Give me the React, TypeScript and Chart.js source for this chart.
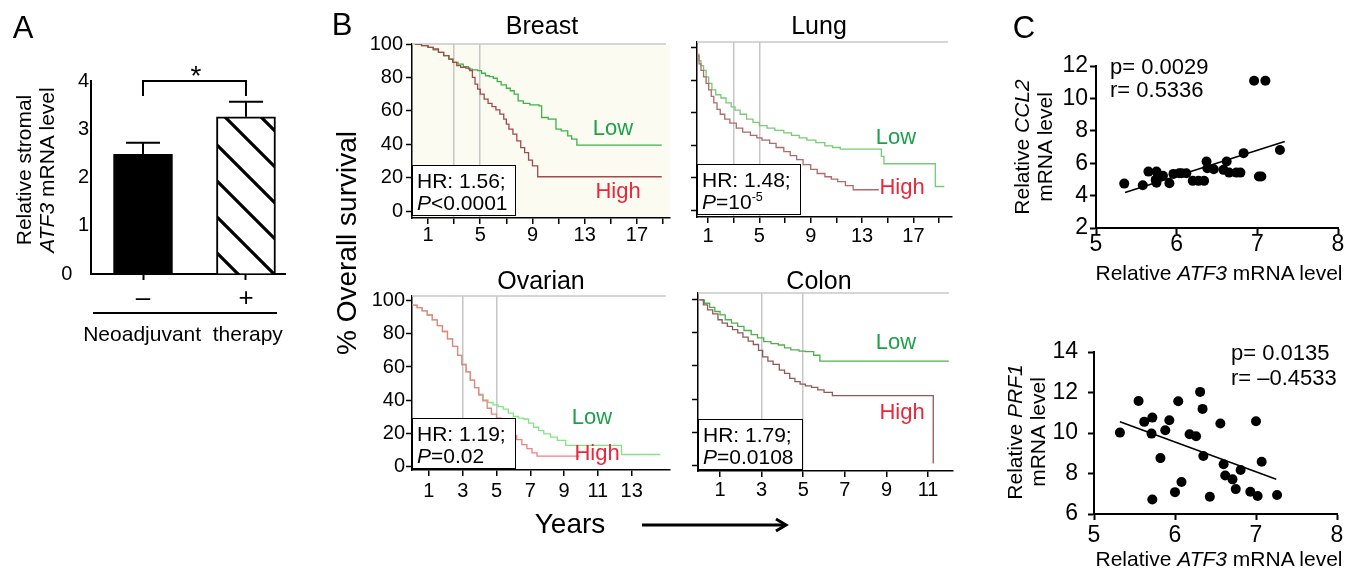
import React, { useEffect, useRef } from 'react';
import { Chart, registerables } from 'chart.js';

Chart.register(...registerables);

const FONT = '"Liberation Sans", Arial, Helvetica, sans-serif';
const PW = 1347;
const PH = 569;
Chart.defaults.font.family = FONT;
Chart.defaults.color = '#000';

// ---------------- Panel A data ----------------
const therapyGroups = ['–', '+'];
const atf3Means = [2.48, 3.26];
const atf3Errors = [0.24, 0.31];
const atf3Ticks = [0, 1, 2, 3, 4];
const sigBracket = [4.0, 3.69];

// ---------------- Panel B data (years, % survival) ----------------
const breastLowYears = [0, 0.5, 1.0, 1.4, 1.8, 2.2, 2.6, 2.9, 3.3, 3.7, 4.1, 4.4, 4.8, 5.1, 5.4, 5.7, 6.0, 6.3, 6.6, 7.0, 7.3, 7.6, 7.9, 8.3, 8.8, 9.5, 9.7, 10.2, 10.8, 11.2, 11.7, 12.0, 12.4, 18.9];
const breastLowSurv = [100, 99, 98, 96.5, 95, 93, 91, 89, 88, 86.5, 85, 84.5, 84, 82.5, 81, 80.5, 79.5, 77.5, 75.5, 73.5, 72, 70, 66, 64.5, 63.5, 63, 56, 55, 49, 48, 45, 43, 39.5, 39.5];
const breastHighYears = [0, 0.5, 1.0, 1.4, 1.8, 2.2, 2.6, 2.9, 3.2, 3.5, 3.9, 4.2, 4.4, 4.6, 4.8, 5.0, 5.3, 5.6, 5.9, 6.2, 6.5, 6.8, 7.0, 7.2, 7.5, 7.8, 8.1, 8.4, 8.7, 9.0, 9.4, 18.9];
const breastHighSurv = [100, 99, 98, 97, 95, 93, 91, 89, 87, 86, 85.5, 84, 80, 76, 73, 70, 67, 64.5, 62.5, 60.5, 58, 55, 52, 49, 46, 42, 38, 35, 30.5, 27, 20.5, 20.5];

const lungLowYears = [0, 0.15, 0.3, 0.45, 0.65, 0.85, 1.05, 1.3, 1.6, 2.0, 2.4, 2.8, 3.1, 3.5, 4.0, 4.5, 5.0, 5.6, 6.2, 6.9, 7.5, 8.1, 8.7, 9.4, 10.1, 10.7, 11.3, 14.4, 14.5, 14.7, 18.6, 18.7, 19.4];
const lungLowSurv = [100, 96, 92, 89, 86, 82, 78, 74, 71, 69, 66, 63.5, 61.5, 59, 56, 54, 52, 50.5, 49, 47.5, 46, 44.5, 43, 41.5, 39.5, 38.5, 37.5, 37.5, 33, 28.5, 28.5, 14.5, 14.5];
const lungHighYears = [0, 0.15, 0.3, 0.45, 0.65, 0.85, 1.05, 1.25, 1.45, 1.7, 1.95, 2.3, 2.7, 3.2, 3.7, 4.3, 4.8, 5.2, 5.8, 6.3, 6.9, 7.4, 7.9, 8.4, 9.0, 9.5, 10.1, 10.6, 11.1, 11.7, 12.3, 14.3];
const lungHighSurv = [100, 95, 90, 86, 82, 78, 74, 70, 66, 62, 59, 56, 53.5, 50.5, 48, 46, 44.5, 43, 41, 38.5, 36, 33.5, 31, 28, 25, 22.5, 20.5, 19, 17.5, 15, 12.5, 12.5];

const ovarianLowYears = [0, 0.3, 0.6, 0.9, 1.2, 1.5, 1.8, 2.1, 2.4, 2.7, 2.95, 3.2, 3.45, 3.7, 3.95, 4.2, 4.5, 4.8, 5.1, 5.4, 5.7, 6.0, 6.3, 6.6, 6.9, 7.2, 7.5, 7.8, 8.2, 8.6, 9.1, 12.3, 12.4, 14.7];
const ovarianLowSurv = [97.5, 96, 94, 91.5, 88.5, 85, 81.5, 77, 72.5, 67, 61.5, 57, 52, 47.5, 43.5, 40, 38.5, 37, 36, 34.5, 32, 30, 29, 28.5, 26, 23.5, 21.5, 19.5, 17.5, 15.5, 12.5, 12.5, 7, 7];
const ovarianHighYears = [0, 0.3, 0.6, 0.9, 1.2, 1.5, 1.8, 2.1, 2.4, 2.7, 2.95, 3.2, 3.45, 3.7, 3.95, 4.2, 4.45, 4.7, 5.0, 5.3, 5.6, 5.9, 6.2, 6.5, 6.8, 7.1, 7.4, 9.9];
const ovarianHighSurv = [97.5, 96, 94, 91.5, 88.5, 85, 81.5, 77, 72.5, 67, 61.5, 57, 52, 47.5, 43, 39.5, 35, 31.5, 29, 25.5, 21.5, 18.5, 16, 13, 10.5, 8, 6, 6];

const colonLowYears = [0, 0.25, 0.5, 0.75, 1.0, 1.25, 1.55, 1.85, 2.15, 2.5, 2.8, 3.1, 3.45, 3.8, 4.1, 4.4, 4.8, 5.1, 5.5, 5.8, 12.0];
const colonLowSurv = [100, 98, 95.5, 93, 91, 88, 86, 84, 81.5, 79, 77, 74.7, 73.5, 72.7, 71, 69.7, 69, 68.7, 66.5, 63, 63];
const colonHighYears = [0, 0.2, 0.4, 0.65, 0.9, 1.1, 1.35, 1.6, 1.85, 2.1, 2.35, 2.6, 2.85, 3.05, 3.3, 3.55, 3.85, 4.1, 4.35, 4.6, 4.85, 5.1, 5.4, 5.7, 6.0, 6.4, 11.2, 11.25];
const colonHighSurv = [100, 97, 94, 91.5, 88, 86, 84, 82, 80, 77.5, 75, 73, 69.5, 65.5, 63, 61, 57.5, 55.5, 52.5, 50.5, 49, 48, 47, 45.5, 44, 42, 42, 1];

const survivalTicks = [0, 20, 40, 60, 80, 100];
const landmarkYears = [3, 5];

// ---------------- Panel C data ----------------
const ccl2Atf3 = [5.35, 5.58, 5.65, 5.75, 5.74, 5.75, 5.83, 5.91, 5.96, 6.03, 6.06, 6.12, 6.20, 6.27, 6.34, 6.37, 6.38, 6.46, 6.58, 6.62, 6.65, 6.74, 6.79, 6.83, 6.96, 7.10, 7.02, 7.05, 7.28];
const ccl2Level = [4.74, 4.64, 5.48, 5.48, 4.97, 4.80, 5.22, 4.76, 5.34, 5.38, 5.38, 5.38, 4.91, 4.91, 4.91, 6.10, 5.69, 5.63, 5.59, 6.10, 5.42, 5.42, 5.42, 6.62, 11.09, 11.09, 5.18, 5.18, 6.82];
const ccl2FitX = [5.36, 7.34];
const ccl2FitY = [4.19, 7.34];
const prf1Atf3 = [5.32, 5.55, 5.62, 5.72, 5.71, 5.72, 5.82, 5.88, 5.93, 6.00, 6.04, 6.08, 6.18, 6.26, 6.31, 6.34, 6.35, 6.43, 6.56, 6.60, 6.62, 6.71, 6.75, 6.81, 6.93, 7.00, 7.02, 7.07, 7.26];
const prf1Level = [10.02, 11.58, 10.55, 10.76, 9.97, 6.72, 8.76, 10.14, 10.63, 7.08, 11.57, 7.58, 9.94, 9.84, 12.03, 11.19, 8.86, 6.85, 10.47, 8.46, 7.90, 7.71, 7.23, 8.17, 7.10, 10.58, 6.89, 8.58, 6.94];
const prf1FitX = [5.32, 7.25];
const prf1FitY = [10.55, 7.71];
const atf3AxisTicks = [5, 6, 7, 8];
const ccl2Ticks = [2, 4, 6, 8, 10, 12];
const prf1Ticks = [6, 8, 10, 12, 14];

// ---------------- helpers ----------------
const pts = (xs: number[], ys: number[]) => xs.map((x, i) => ({ x, y: ys[i] }));
const setTicks = (vals: number[]) => (sc: any) => {
  sc.ticks = vals.map((v) => ({ value: v }));
};
const fitY = (w: number) => (sc: any) => {
  sc.width = w;
  sc.paddingTop = 0;
  sc.paddingBottom = 0;
};
const fitX = (h: number) => (sc: any) => {
  sc.height = h;
  sc.paddingLeft = 0;
  sc.paddingRight = 0;
};
const YW = 70;
const XH = 45;
const layoutFor = (L: number, T: number, R: number, B: number) => ({
  autoPadding: false,
  padding: { left: L - YW, top: T, right: PW - R, bottom: PH - B - XH },
});
const baseOpts = {
  animation: false,
  responsive: false,
  events: [],
  plugins: { legend: { display: false }, tooltip: { enabled: false }, title: { display: false } },
};

function ChartLayer({ build }: { build: () => any }) {
  const ref = useRef<HTMLCanvasElement | null>(null);
  useEffect(() => {
    if (!ref.current) return;
    const chart = new Chart(ref.current, build());
    return () => {
      chart.destroy();
    };
  }, []);
  return (
    <canvas
      ref={ref}
      width={PW}
      height={PH}
      style={{ position: 'absolute', left: 0, top: 0, width: PW, height: PH }}
    />
  );
}

// ---------------- Panel A chart ----------------
function buildBar() {
  const pc = document.createElement('canvas');
  const S = 36;
  pc.width = S;
  pc.height = S;
  const g = pc.getContext('2d')!;
  g.fillStyle = '#fff';
  g.fillRect(0, 0, S, S);
  g.strokeStyle = '#000';
  g.lineWidth = 3.2;
  g.beginPath();
  g.moveTo(-4, -4);
  g.lineTo(S + 4, S + 4);
  g.moveTo(-4, S - 4);
  g.lineTo(4, S + 4);
  g.moveTo(S - 4, -4);
  g.lineTo(S + 4, 4);
  g.stroke();
  const hatch = g.createPattern(pc, 'repeat');

  const errPlugin = {
    id: 'errbars',
    afterDatasetsDraw(chart: any) {
      const { ctx, scales } = chart;
      const x = scales.x;
      const y = scales.y;
      ctx.save();
      ctx.strokeStyle = '#000';
      ctx.lineWidth = 2;
      atf3Means.forEach((m, i) => {
        const px = x.getPixelForValue(i);
        const top = y.getPixelForValue(m + atf3Errors[i]);
        const base = y.getPixelForValue(m);
        ctx.beginPath();
        ctx.moveTo(px, base);
        ctx.lineTo(px, top);
        ctx.moveTo(px - 17, top);
        ctx.lineTo(px + 17, top);
        ctx.stroke();
      });
      const x0 = x.getPixelForValue(0);
      const x1 = x.getPixelForValue(1);
      const yb = y.getPixelForValue(sigBracket[0]);
      const yl = y.getPixelForValue(sigBracket[1]);
      ctx.beginPath();
      ctx.moveTo(x0, yl);
      ctx.lineTo(x0, yb);
      ctx.lineTo(x1, yb);
      ctx.lineTo(x1, yl);
      ctx.stroke();
      ctx.restore();
    },
  };

  return {
    type: 'bar',
    data: {
      datasets: [
        {
          data: pts([0, 1], atf3Means),
          backgroundColor: ['#000', hatch],
          borderColor: '#000',
          borderWidth: 2,
          barThickness: 59,
        },
      ],
    },
    options: {
      ...baseOpts,
      layout: layoutFor(91, 81, 285, 274),
      scales: {
        x: {
          type: 'linear',
          min: -0.505,
          max: 1.379,
          offset: false,
          afterBuildTicks: setTicks([0, 1]),
          afterFit: fitX(XH),
          ticks: {
            autoSkip: false,
            maxRotation: 0,
            padding: 6,
            font: { size: 26, lineHeight: 1 },
            color: '#000',
            callback: (v: number) => therapyGroups[v] ?? '',
          },
          grid: { offset: false, drawOnChartArea: false, tickLength: 6, tickColor: '#000', tickWidth: 2 },
          border: { color: '#000', width: 2 },
        },
        y: {
          type: 'linear',
          min: 0,
          max: 4,
          afterBuildTicks: setTicks(atf3Ticks),
          afterFit: fitY(YW),
          ticks: {
            padding: 2,
            font: { size: 20, lineHeight: 1 },
            color: '#000',
            callback: (v: number) => (v === 0 ? '0\u00a0\u00a0\u00a0' : String(v)),
          },
          grid: { drawOnChartArea: false, tickLength: 0, tickColor: '#000' },
          border: { color: '#000', width: 2 },
        },
      },
    },
    plugins: [errPlugin],
  };
}

// ---------------- Panel B charts ----------------
type KMSpec = {
  area: [number, number, number, number];
  xMin: number;
  xMax: number;
  yMin: number;
  yMax: number;
  xTicks: number[];
  xLabels: number[];
  xPad: number;
  yLabels: boolean;
  yPad: number;
  lowT: number[];
  lowS: number[];
  highT: number[];
  highS: number[];
  lowColor: string;
  highColor: string;
  bg?: string;
};

const kmSpecs: KMSpec[] = [
  {
    area: [412, 44, 670, 218],
    xMin: -0.225,
    xMax: 19.53,
    yMin: -4.19,
    yMax: 100,
    xTicks: [1, 3, 5, 7, 9, 11, 13, 15, 17, 19],
    xLabels: [1, 5, 9, 13, 17],
    xPad: 1,
    yLabels: true,
    yPad: 3,
    lowT: breastLowYears,
    lowS: breastLowSurv,
    highT: breastHighYears,
    highS: breastHighSurv,
    lowColor: '#3db24a',
    highColor: '#a44a4a',
    bg: '#fbfbf1',
  },
  {
    area: [697, 42, 952, 217],
    xMin: 0.14,
    xMax: 20.0,
    yMin: -4.3,
    yMax: 103.5,
    xTicks: [1, 3, 5, 7, 9, 11, 13, 15, 17, 19],
    xLabels: [1, 5, 9, 13, 17],
    xPad: 3,
    yLabels: false,
    yPad: 3,
    lowT: lungLowYears,
    lowS: lungLowSurv,
    highT: lungHighYears,
    highS: lungHighSurv,
    lowColor: '#74cc74',
    highColor: '#b06a6a',
  },
  {
    area: [412, 296, 670, 470],
    xMin: 0,
    xMax: 15.27,
    yMin: -2.4,
    yMax: 103,
    xTicks: [1, 3, 5, 7, 9, 11, 13],
    xLabels: [1, 3, 5, 7, 9, 11, 13],
    xPad: 5,
    yLabels: true,
    yPad: 1,
    lowT: ovarianLowYears,
    lowS: ovarianLowSurv,
    highT: ovarianHighYears,
    highS: ovarianHighSurv,
    lowColor: '#84e484',
    highColor: '#f08080',
  },
  {
    area: [698, 293, 953, 471],
    xMin: -0.06,
    xMax: 12.2,
    yMin: -3.6,
    yMax: 104.2,
    xTicks: [1, 3, 5, 7, 9, 11],
    xLabels: [1, 3, 5, 7, 9, 11],
    xPad: 3,
    yLabels: false,
    yPad: 3,
    lowT: colonLowYears,
    lowS: colonLowSurv,
    highT: colonHighYears,
    highS: colonHighSurv,
    lowColor: '#4cb34c',
    highColor: '#8e5a5a',
  },
];

function kmDecor(bg?: string) {
  return {
    id: 'kmDecor',
    beforeDraw(chart: any) {
      if (!bg) return;
      const a = chart.chartArea;
      const c = chart.ctx;
      c.save();
      c.fillStyle = bg;
      c.fillRect(a.left, a.top, a.right - a.left, a.bottom - a.top);
      c.restore();
    },
    beforeDatasetsDraw(chart: any) {
      const a = chart.chartArea;
      const c = chart.ctx;
      c.save();
      c.strokeStyle = '#c8c8c8';
      c.lineWidth = 1.5;
      c.beginPath();
      c.moveTo(a.left, a.top);
      c.lineTo(a.right - 4, a.top);
      c.stroke();
      c.restore();
    },
  };
}

function buildKM(s: KMSpec) {
  const [L, T, R, B] = s.area;
  return {
    type: 'line',
    data: {
      datasets: [
        { data: pts(s.highT, s.highS), borderColor: s.highColor, borderWidth: 1.3, pointRadius: 0, stepped: true, fill: false },
        { data: pts(s.lowT, s.lowS), borderColor: s.lowColor, borderWidth: 1.3, pointRadius: 0, stepped: true, fill: false },
      ],
    },
    options: {
      ...baseOpts,
      layout: layoutFor(L, T, R, B),
      scales: {
        x: {
          type: 'linear',
          min: s.xMin,
          max: s.xMax,
          afterBuildTicks: setTicks(s.xTicks),
          afterFit: fitX(XH),
          ticks: {
            autoSkip: false,
            maxRotation: 0,
            padding: s.xPad,
            font: { size: 20, lineHeight: 1 },
            color: '#000',
            callback: (v: number) => (s.xLabels.includes(v) ? String(v) : ''),
          },
          grid: {
            drawOnChartArea: true,
            color: (c: any) => (c.tick && landmarkYears.includes(c.tick.value) ? '#c6c6c6' : 'rgba(0,0,0,0)'),
            lineWidth: 1.5,
            tickColor: '#000',
            tickLength: 6,
            tickWidth: 1.5,
          },
          border: { color: '#000', width: 1.5 },
        },
        y: {
          type: 'linear',
          min: s.yMin,
          max: s.yMax,
          afterBuildTicks: setTicks(survivalTicks),
          afterFit: fitY(YW),
          ticks: {
            padding: s.yPad,
            font: { size: 20, lineHeight: 1 },
            color: '#000',
            callback: (v: number) => (s.yLabels ? String(v) : ''),
          },
          grid: { drawOnChartArea: false, tickLength: 6, tickColor: '#000', tickWidth: 1.5 },
          border: { color: '#000', width: 1.5 },
        },
      },
    },
    plugins: [kmDecor(s.bg)],
  };
}

// ---------------- Panel C charts ----------------
function buildScatter(
  area: [number, number, number, number],
  xs: number[],
  ys: number[],
  fx: number[],
  fy: number[],
  yTicks: number[],
  yPad: number,
  xPad: number
) {
  const [L, T, R, B] = area;
  return {
    type: 'scatter',
    data: {
      datasets: [
        { type: 'line', data: pts(fx, fy), borderColor: '#000', borderWidth: 1.6, pointRadius: 0, fill: false },
        { data: pts(xs, ys), backgroundColor: '#000', borderColor: '#000', pointRadius: 5, borderWidth: 0 },
      ],
    },
    options: {
      ...baseOpts,
      layout: layoutFor(L, T, R, B),
      scales: {
        x: {
          type: 'linear',
          min: atf3AxisTicks[0],
          max: atf3AxisTicks[atf3AxisTicks.length - 1],
          afterBuildTicks: setTicks(atf3AxisTicks),
          afterFit: fitX(XH),
          ticks: { autoSkip: false, maxRotation: 0, padding: xPad, font: { size: 23, lineHeight: 1 }, color: '#000' },
          grid: { drawOnChartArea: false, tickLength: 6, tickColor: '#000', tickWidth: 2 },
          border: { color: '#000', width: 2 },
        },
        y: {
          type: 'linear',
          min: yTicks[0],
          max: yTicks[yTicks.length - 1],
          afterBuildTicks: setTicks(yTicks),
          afterFit: fitY(YW),
          ticks: { padding: yPad, font: { size: 23, lineHeight: 1 }, color: '#000' },
          grid: { drawOnChartArea: false, tickLength: 6, tickColor: '#000', tickWidth: 2 },
          border: { color: '#000', width: 2 },
        },
      },
    },
  };
}

// ---------------- text helpers ----------------
type TProps = { x: number; y: number; size: number; children: any; align?: 'center' | 'left'; color?: string; style?: any };
const Txt = ({ x, y, size, children, align = 'center', color = '#000', style }: TProps) => (
  <div
    style={{
      position: 'absolute',
      left: x,
      top: y,
      fontSize: size,
      lineHeight: 1,
      whiteSpace: 'pre',
      color,
      fontFamily: FONT,
      transform: align === 'center' ? 'translate(-50%,-50%)' : 'translate(0,-50%)',
      ...style,
    }}
  >
    {children}
  </div>
);

const VTxt = ({ x, y, size, lh, children }: { x: number; y: number; size: number; lh: number; children: any }) => (
  <div
    style={{
      position: 'absolute',
      left: x,
      top: y,
      fontSize: size,
      lineHeight: lh + 'px',
      whiteSpace: 'pre',
      textAlign: 'center',
      fontFamily: FONT,
      color: '#000',
      transform: 'translate(-50%,-50%) rotate(-90deg)',
    }}
  >
    {children}
  </div>
);

const HRBox = ({ l, t, r, b, line1, line2, tx, y1, y2 }: any) => (
  <>
    <div
      style={{
        position: 'absolute',
        left: l,
        top: t,
        width: r - l,
        height: b - t,
        border: '1.5px solid #000',
        boxSizing: 'border-box',
        background: '#fff',
      }}
    />
    <Txt x={tx} y={y1} size={21} align="left">{line1}</Txt>
    <Txt x={tx} y={y2} size={21} align="left">{line2}</Txt>
  </>
);

const LOW = '#1ea14c';
const HIGH = '#e8283a';

export default function App() {
  return (
    <div
      style={{
        position: 'absolute',
        left: 0,
        top: 0,
        width: PW,
        height: PH,
        overflow: 'hidden',
        background: '#fff',
        fontFamily: FONT,
      }}
    >
      <ChartLayer build={buildBar} />
      {kmSpecs.map((s, i) => (
        <ChartLayer key={i} build={() => buildKM(s)} />
      ))}
      <ChartLayer build={() => buildScatter([1096, 66, 1338, 228], ccl2Atf3, ccl2Level, ccl2FitX, ccl2FitY, ccl2Ticks, 2, -1)} />
      <ChartLayer build={() => buildScatter([1094, 352, 1337, 514], prf1Atf3, prf1Level, prf1FitX, prf1FitY, prf1Ticks, 10, 4)} />

      <svg width={PW} height={PH} style={{ position: 'absolute', left: 0, top: 0 }}>
        <line x1={93} y1={313} x2={277} y2={313} stroke="#000" strokeWidth={2} />
        <line x1={642} y1={525} x2={784} y2={525} stroke="#000" strokeWidth={3} />
        <polyline points="776,519 786,525 776,531" fill="none" stroke="#000" strokeWidth={3} />
      </svg>

      {/* Panel A */}
      <Txt x={23} y={27} size={31}>A</Txt>
      <VTxt x={35} y={170} size={21} lh={23}>
        {'Relative stromal\n'}
        <i>ATF3</i>
        {' mRNA level'}
      </VTxt>
      <Txt x={196} y={76} size={28}>*</Txt>
      <Txt x={183} y={333} size={21}>{'Neoadjuvant  therapy'}</Txt>

      {/* Panel B */}
      <Txt x={342} y={24} size={31}>B</Txt>
      <Txt x={542} y={25} size={25}>Breast</Txt>
      <Txt x={819} y={25} size={25}>Lung</Txt>
      <Txt x={541} y={280} size={25}>Ovarian</Txt>
      <Txt x={819} y={280} size={25}>Colon</Txt>
      <VTxt x={347} y={243} size={28} lh={30}>% Overall survival</VTxt>
      <Txt x={570} y={524} size={28}>Years</Txt>

      <HRBox l={412} t={165} r={516} b={216} tx={417} y1={180} y2={202} line1="HR: 1.56;" line2={<><i>P</i>{'<0.0001'}</>} />
      <HRBox l={697} t={164} r={801} b={215} tx={702} y1={179} y2={201} line1="HR: 1.48;" line2={<><i>P</i>{'=10'}<span style={{ fontSize: '0.6em', position: 'relative', top: '-0.6em' }}>-5</span></>} />
      <HRBox l={412} t={418} r={516} b={469} tx={417} y1={433} y2={455} line1="HR: 1.19;" line2={<><i>P</i>{'=0.02'}</>} />
      <HRBox l={698} t={419} r={803} b={470} tx={703} y1={434} y2={456} line1="HR: 1.79;" line2={<><i>P</i>{'=0.0108'}</>} />

      <Txt x={613} y={128} size={22} color={LOW}>Low</Txt>
      <Txt x={618} y={191} size={22} color={HIGH}>High</Txt>
      <Txt x={896} y={137} size={22} color={LOW}>Low</Txt>
      <Txt x={902} y={187} size={22} color={HIGH}>High</Txt>
      <Txt x={592} y={417} size={22} color={LOW}>Low</Txt>
      <Txt x={597} y={453} size={22} color={HIGH}>High</Txt>
      <Txt x={896} y={342} size={22} color={LOW}>Low</Txt>
      <Txt x={902} y={412} size={22} color={HIGH}>High</Txt>

      {/* Panel C */}
      <Txt x={1024} y={27} size={31}>C</Txt>
      <Txt x={1110} y={67} size={22} align="left">p= 0.0029</Txt>
      <Txt x={1110} y={90} size={22} align="left">r= 0.5336</Txt>
      <VTxt x={1033} y={147} size={21} lh={23}>
        {'Relative '}
        <i>CCL2</i>
        {'\nmRNA level'}
      </VTxt>
      <Txt x={1219} y={272} size={21}>
        {'Relative '}
        <i>ATF3</i>
        {' mRNA level'}
      </Txt>
      <Txt x={1231} y={353} size={22} align="left">p= 0.0135</Txt>
      <Txt x={1231} y={378} size={22} align="left">r= –0.4533</Txt>
      <VTxt x={1026} y={432} size={21} lh={23}>
        {'Relative '}
        <i>PRF1</i>
        {'\nmRNA level'}
      </VTxt>
      <Txt x={1219} y={558} size={21}>
        {'Relative '}
        <i>ATF3</i>
        {' mRNA level'}
      </Txt>
    </div>
  );
}
